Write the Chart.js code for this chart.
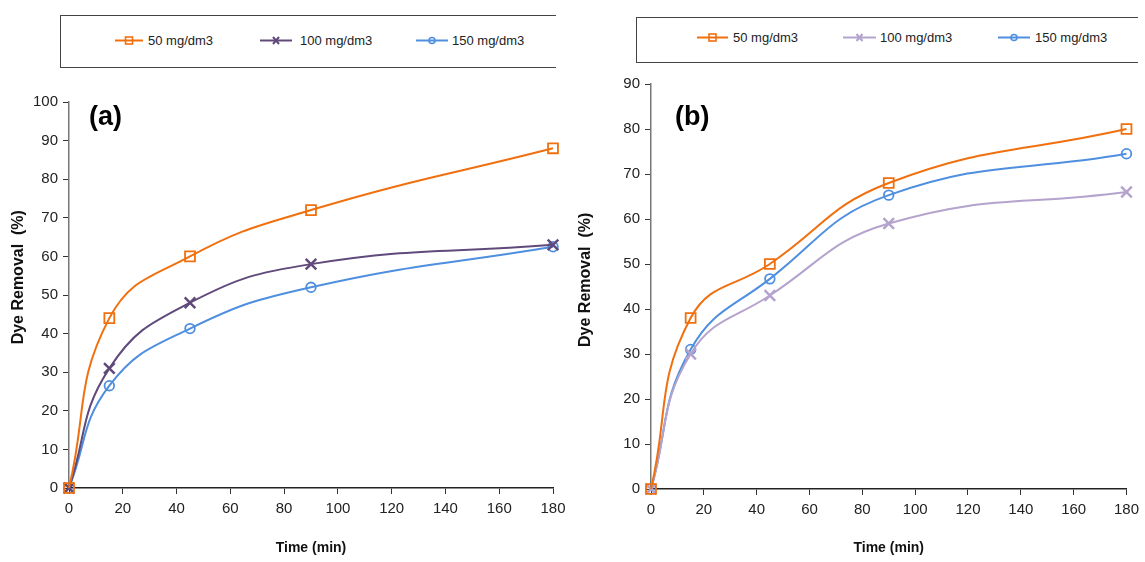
<!DOCTYPE html>
<html>
<head>
<meta charset="utf-8">
<script src="https://cdn.jsdelivr.net/npm/chart.js@4.4.1/dist/chart.umd.min.js"></script>
<style>
  body { margin: 0; background: #fff; width: 1145px; height: 562px; overflow: hidden; position: relative;
         font-family: "Liberation Sans", Arial, sans-serif; }
  .panel { position: absolute; }
  .legend { position: absolute; border-top: 1.5px solid #444; border-left: 1.5px solid #444; border-bottom: 1.5px solid #444;
            box-sizing: border-box; }
  .item { position: absolute; display: flex; align-items: center; font-size: 13px; color: #222; white-space: nowrap; }
  .tag { position: absolute; font-family: "Liberation Sans", Arial, sans-serif; font-weight: bold; font-size: 27px; color: #000; }
</style>
</head>
<body>
<div class="legend" id="legA" style="left:60px;top:15px;width:496px;height:53px"></div>
<div class="legend" id="legB" style="left:636px;top:17px;width:502px;height:46px"></div>
<div class="panel" style="left:0;top:80px;width:580px;height:482px"><canvas id="chartA"></canvas></div>
<div class="panel" style="left:572px;top:70px;width:573px;height:492px"><canvas id="chartB"></canvas></div>
<div class="tag" style="left:89px;top:101px">(a)</div>
<div class="tag" style="left:675px;top:101px">(b)</div>
<script>
const TIMES = [0, 15, 45, 90, 180];
const LABELS = ['50 mg/dm3', '100 mg/dm3', '150 mg/dm3'];

const A_50 = [0, 44, 60, 72, 88];
const A_100 = [0, 31, 48, 58, 63];
const A_150 = [0, 26.5, 41.3, 52, 62.5];

const B_50 = [0, 38, 50, 68, 80];
const B_100 = [0, 30, 43, 59, 66];
const B_150 = [0, 31, 46.7, 65.3, 74.5];

const ORANGE = '#f0700f';
const PURPLE_A = '#604a7b';
const PURPLE_B = '#b4a3cc';
const BLUE = '#4f8fdf';

const STYLES = [
  { pointStyle: 'rect', pointRadius: 7 },
  { pointStyle: 'crossRot', pointRadius: 7.5 },
  { pointStyle: 'circle', pointRadius: 4.8 },
];

function series(vals, i, color) {
  return {
    label: LABELS[i],
    data: TIMES.map((t, k) => ({ x: t, y: vals[k] })),
    borderColor: color,
    pointBorderColor: color,
    pointBackgroundColor: 'rgba(0,0,0,0)',
    borderWidth: 2,
    pointBorderWidth: i === 1 ? 2.5 : 1.8,
    tension: 0.45,
    clip: false,
    pointStyle: STYLES[i].pointStyle,
    pointRadius: STYLES[i].pointRadius,
  };
}

const tickFont = { family: '"Liberation Sans", Arial, sans-serif', size: 15 };

function makeChart(id, sets, yMax, yW, xH, pad, yTitlePad, yTitle) {
  return new Chart(document.getElementById(id), {
    type: 'line',
    data: { datasets: sets },
    options: {
      responsive: true, maintainAspectRatio: false, animation: false,
      layout: { padding: pad },
      plugins: { legend: { display: false }, tooltip: { enabled: false } },
      scales: {
        x: {
          type: 'linear', min: 0, max: 180,
          ticks: { stepSize: 20, color: '#222', font: tickFont, padding: 6, maxRotation: 0 },
          grid: { drawOnChartArea: false, tickLength: 6, color: '#333' },
          border: { color: '#222', width: 1.5 },
          title: { display: true, text: 'Time (min)', color: '#111', padding: { top: 0, bottom: 5 },
                   font: { family: '"Liberation Sans", Arial, sans-serif', size: 14, weight: 'bold' } },
          afterFit(s) { s.height = xH; },
        },
        y: {
          min: 0, max: yMax,
          ticks: { stepSize: 10, color: '#222', font: tickFont, padding: 5 },
          grid: { drawOnChartArea: false, tickLength: 6, color: '#333' },
          border: { color: '#777', width: 1.5 },
          title: { display: true, text: yTitle, color: '#111', padding: { top: yTitlePad, bottom: 0 },
                   font: { family: '"Liberation Sans", Arial, sans-serif', size: 16, weight: 'bold' } },
          afterFit(s) { s.width = yW; },
        },
      },
    },
  });
}

makeChart('chartA', [series(A_50, 0, ORANGE), series(A_100, 1, PURPLE_A), series(A_150, 2, BLUE)],
  100, 69, 74, { left: 0, right: 27, top: 22, bottom: 0 }, 9, '        Dye Removal  (%)');
makeChart('chartB', [series(B_50, 0, ORANGE), series(B_100, 1, PURPLE_B), series(B_150, 2, BLUE)],
  90, 79, 73, { left: 0, right: 13, top: 14, bottom: 0 }, 4, '   Dye Removal  (%)');

// legends
function legendSvg(color, kind, w) {
  const c = w / 2;
  let mark = '';
  if (kind === 0) mark = `<rect x="${c - 3.5}" y="3" width="7" height="7" fill="none" stroke="${color}" stroke-width="1.6"/>`;
  if (kind === 1) mark = `<path d="M${c - 3} 3 L${c + 3} 10 M${c + 3} 3 L${c - 3} 10" stroke="${color}" stroke-width="2"/>`;
  if (kind === 2) mark = `<circle cx="${c}" cy="6.5" r="3" fill="none" stroke="${color}" stroke-width="1.6"/>`;
  return `<svg width="${w}" height="13"><line x1="0" y1="6.5" x2="${w}" y2="6.5" stroke="${color}" stroke-width="2"/>${mark}</svg>`;
}
function buildLegend(id, colors, xs, widths, gaps, top) {
  const box = document.getElementById(id);
  LABELS.forEach((lab, i) => {
    const d = document.createElement('div');
    d.className = 'item';
    d.style.left = xs[i] + 'px';
    d.style.top = top + 'px';
    d.innerHTML = legendSvg(colors[i], i, widths[i]) + `<span style="margin-left:${gaps[i]}px">${lab}</span>`;
    box.appendChild(d);
  });
}
buildLegend('legA', [ORANGE, PURPLE_A, BLUE], [54, 199, 355], [28, 32, 32], [5, 8, 4], 17);
buildLegend('legB', [ORANGE, PURPLE_B, BLUE], [60, 206, 361], [31, 33, 32], [5, 4, 5], 12);
</script>
</body>
</html>
